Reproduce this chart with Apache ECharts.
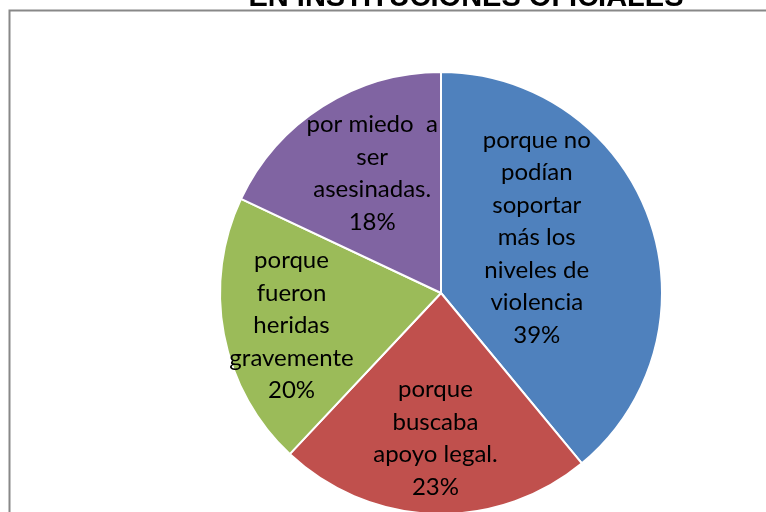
<!DOCTYPE html>
<html>
<head>
<meta charset="utf-8">
<script src="https://cdn.jsdelivr.net/npm/echarts@6/dist/echarts.min.js"></script>
<style>
  html, body { margin: 0; padding: 0; background: #fff; }
  #chart { width: 766px; height: 512px; }
</style>
</head>
<body>
<div id="chart"></div>
<script>
// datos
var titleText = "EN INSTITUCIONES OFICIALES";
var categories = [
  "porque no\npodían\nsoportar\nmás los\nniveles de\nviolencia",
  "porque\nbuscaba\napoyo legal.",
  "porque\nfueron\nheridas\ngravemente",
  "por miedo  a\nser\nasesinadas."
];
var values = [39, 23, 20, 18];
var colors = ["#4f81bd", "#c0504d", "#9bbb59", "#8064a2"];
// ajuste de etiquetas (como en excel)
var labelShift = [[-11, -17], [-2, 32], [-38, 11], [-8, -24]];

var chart = echarts.init(document.getElementById("chart"));
var option = {
  animation: false,
  title: {
    text: titleText,
    left: 461,
    textAlign: "center",
    top: -22,
    textStyle: {
      fontFamily: "Liberation Sans",
      fontWeight: "bold",
      fontSize: 29,
      color: "#000"
    }
  },
  graphic: [
    {
      type: "rect",
      shape: { x: 9.5, y: 10.5, width: 800, height: 600 },
      style: { fill: "none", stroke: "#888", lineWidth: 2 },
      silent: true
    }
  ],
  series: [
    {
      type: "pie",
      center: [441, 293],
      radius: [0, 221],
      startAngle: 90,
      clockwise: true,
      data: categories.map(function (c, i) {
        return { name: c, value: values[i], itemStyle: { color: colors[i] } };
      }),
      itemStyle: { borderColor: "#fff", borderWidth: 2 },
      label: {
        show: true,
        position: "inside",
        formatter: "{b}\n{c}%",
        fontFamily: "Lato",
        fontSize: 24,
        lineHeight: 32.5,
        color: "#000",
        align: "center"
      },
      labelLine: { show: false },
      labelLayout: function (p) {
        var s = labelShift[p.dataIndex];
        return { dx: s[0], dy: s[1] };
      }
    }
  ]
};
chart.setOption(option);
</script>
</body>
</html>
